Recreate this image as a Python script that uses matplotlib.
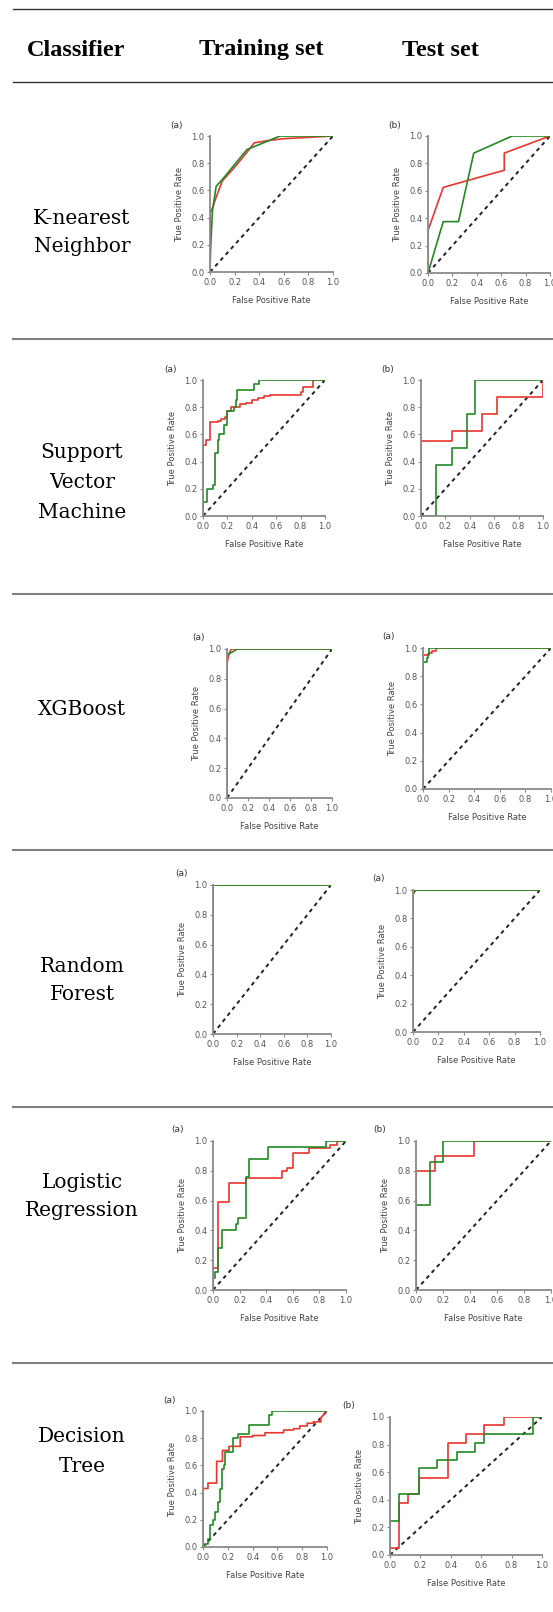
import matplotlib
matplotlib.use("Agg")
import matplotlib.pyplot as plt
from matplotlib.lines import Line2D

W, H = 553, 1612

classifiers = ["K-nearest\nNeighbor", "Support\nVector\nMachine", "XGBoost",
               "Random\nForest", "Logistic\nRegression", "Decision\nTree"]
headers = ["Classifier", "Training set", "Test set"]
panel_tags = [("(a)", "(b)"), ("(a)", "(b)"), ("(a)", "(a)"),
              ("(a)", "(a)"), ("(a)", "(b)"), ("(a)", "(b)")]

# ROC curves: (fpr, tpr) for red and green in each panel
knn_train_red = ([0, 0, 0.02, 0.05, 0.1, 0.2, 0.3, 0.36, 0.5, 0.6, 0.8, 1.0],
                 [0, 0.43, 0.47, 0.55, 0.67, 0.77, 0.88, 0.95, 0.97, 0.98, 0.99, 1.0])
knn_train_green = ([0, 0.005, 0.02, 0.05, 0.1, 0.3, 0.57, 1.0],
                   [0, 0.17, 0.45, 0.63, 0.68, 0.9, 1.0, 1.0])
knn_test_red = ([0, 0, 0.125, 0.625, 0.625, 1.0],
                [0, 0.31, 0.625, 0.75, 0.875, 1.0])
knn_test_green = ([0, 0.125, 0.25, 0.375, 0.69, 1.0],
                  [0, 0.375, 0.375, 0.875, 1.0, 1.0])

svm_train_red = ([0, 0, 0.025, 0.025, 0.06, 0.06, 0.12, 0.12, 0.15, 0.15, 0.18, 0.18, 0.2, 0.2,
                  0.23, 0.23, 0.3, 0.3, 0.35, 0.35, 0.4, 0.4, 0.45, 0.45, 0.5, 0.5, 0.55, 0.55,
                  0.8, 0.8, 0.82, 0.82, 0.9, 0.9, 1.0],
                 [0, 0.52, 0.52, 0.56, 0.56, 0.69, 0.69, 0.7, 0.7, 0.71, 0.71, 0.73, 0.73, 0.77,
                  0.77, 0.8, 0.8, 0.82, 0.82, 0.83, 0.83, 0.85, 0.85, 0.87, 0.87, 0.88, 0.88, 0.89,
                  0.89, 0.91, 0.91, 0.95, 0.95, 1.0, 1.0])
svm_train_green = ([0, 0, 0.03, 0.03, 0.08, 0.08, 0.1, 0.1, 0.12, 0.12, 0.13, 0.13, 0.17, 0.17,
                    0.2, 0.2, 0.25, 0.25, 0.27, 0.27, 0.28, 0.28, 0.42, 0.42, 0.46, 0.46, 1.0],
                   [0, 0.1, 0.1, 0.2, 0.2, 0.23, 0.23, 0.46, 0.46, 0.56, 0.56, 0.6, 0.6, 0.67,
                    0.67, 0.77, 0.77, 0.8, 0.8, 0.85, 0.85, 0.93, 0.93, 0.97, 0.97, 1.0, 1.0])
svm_test_red = ([0, 0, 0.25, 0.25, 0.5, 0.5, 0.625, 0.625, 1.0, 1.0],
                [0, 0.555, 0.555, 0.625, 0.625, 0.75, 0.75, 0.875, 0.875, 1.0])
svm_test_green = ([0, 0.125, 0.125, 0.25, 0.25, 0.375, 0.375, 0.44, 0.44, 1.0],
                  [0, 0, 0.375, 0.375, 0.5, 0.5, 0.75, 0.75, 1.0, 1.0])

xgb_train_red = ([0, 0, 0.01, 0.02, 0.04, 1.0], [0, 0.9, 0.94, 0.97, 1.0, 1.0])
xgb_train_green = ([0, 0, 0.05, 0.1, 1.0], [0, 0.96, 0.98, 1.0, 1.0])
xgb_test_red = ([0, 0, 0.05, 0.05, 0.07, 0.07, 0.1, 0.1, 1.0],
                [0, 0.95, 0.95, 0.965, 0.965, 0.98, 0.98, 1.0, 1.0])
xgb_test_green = ([0, 0, 0.03, 0.03, 0.04, 0.04, 0.05, 0.05, 1.0],
                  [0, 0.9, 0.9, 0.93, 0.93, 0.96, 0.96, 1.0, 1.0])

rf_train_red = ([0, 0, 1.0], [0, 1.0, 1.0])
rf_train_green = ([0, 0, 1.0], [0, 1.0, 1.0])
rf_test_red = ([0, 0, 0.02, 1.0], [0, 0.97, 1.0, 1.0])
rf_test_green = ([0, 0, 0.02, 1.0], [0, 0.97, 1.0, 1.0])

lr_train_red = ([0, 0, 0.037, 0.037, 0.12, 0.12, 0.25, 0.25, 0.52, 0.52, 0.56, 0.56, 0.6, 0.6,
                 0.72, 0.72, 0.88, 0.88, 0.93, 0.93, 1.0],
                [0, 0.15, 0.15, 0.59, 0.59, 0.72, 0.72, 0.75, 0.75, 0.8, 0.8, 0.82, 0.82, 0.92,
                 0.92, 0.95, 0.95, 0.97, 0.97, 1.0, 1.0])
lr_train_green = ([0, 0, 0.017, 0.017, 0.04, 0.04, 0.067, 0.067, 0.17, 0.17, 0.19, 0.19, 0.25,
                   0.25, 0.27, 0.27, 0.41, 0.41, 0.85, 0.85, 1.0],
                  [0, 0.08, 0.08, 0.12, 0.12, 0.28, 0.28, 0.4, 0.4, 0.44, 0.44, 0.48, 0.48,
                   0.76, 0.76, 0.88, 0.88, 0.96, 0.96, 1.0, 1.0])
lr_test_red = ([0, 0, 0.143, 0.143, 0.43, 0.43, 1.0], [0, 0.8, 0.8, 0.9, 0.9, 1.0, 1.0])
lr_test_green = ([0, 0, 0.1, 0.1, 0.2, 0.2, 1.0], [0, 0.57, 0.57, 0.86, 0.86, 1.0, 1.0])

dt_train_red = ([0, 0, 0.04, 0.04, 0.11, 0.11, 0.157, 0.157, 0.21, 0.21, 0.3, 0.3, 0.4, 0.4,
                 0.5, 0.5, 0.65, 0.65, 0.73, 0.73, 0.78, 0.78, 0.84, 0.84, 0.89, 0.89, 0.95,
                 0.95, 1.0],
                [0, 0.43, 0.43, 0.47, 0.47, 0.63, 0.63, 0.71, 0.71, 0.74, 0.74, 0.81, 0.81,
                 0.82, 0.82, 0.84, 0.84, 0.86, 0.86, 0.87, 0.87, 0.89, 0.89, 0.91, 0.91, 0.92,
                 0.92, 0.95, 1.0])
dt_train_green = ([0, 0.02, 0.02, 0.04, 0.04, 0.06, 0.06, 0.08, 0.08, 0.1, 0.1, 0.12, 0.12,
                   0.14, 0.14, 0.15, 0.15, 0.17, 0.17, 0.18, 0.18, 0.24, 0.24, 0.28, 0.28,
                   0.37, 0.37, 0.53, 0.53, 0.56, 0.56, 1.0],
                  [0, 0, 0.02, 0.02, 0.06, 0.06, 0.16, 0.16, 0.2, 0.2, 0.26, 0.26, 0.33, 0.33,
                   0.43, 0.43, 0.57, 0.57, 0.6, 0.6, 0.7, 0.7, 0.8, 0.8, 0.83, 0.83, 0.9, 0.9,
                   0.97, 0.97, 1.0, 1.0])
dt_test_red = ([0, 0, 0.06, 0.06, 0.12, 0.12, 0.19, 0.19, 0.38, 0.38, 0.5, 0.5, 0.62, 0.62,
                0.75, 0.75, 1.0],
               [0, 0.05, 0.05, 0.38, 0.38, 0.44, 0.44, 0.56, 0.56, 0.81, 0.81, 0.88, 0.88,
                0.94, 0.94, 1.0, 1.0])
dt_test_green = ([0, 0, 0.06, 0.06, 0.19, 0.19, 0.31, 0.31, 0.44, 0.44, 0.56, 0.56, 0.62,
                  0.62, 0.94, 0.94, 1.0],
                 [0, 0.25, 0.25, 0.44, 0.44, 0.63, 0.63, 0.69, 0.69, 0.75, 0.75, 0.81, 0.81,
                  0.88, 0.88, 1.0, 1.0])

curves = [
    [(knn_train_red, knn_train_green), (knn_test_red, knn_test_green)],
    [(svm_train_red, svm_train_green), (svm_test_red, svm_test_green)],
    [(xgb_train_red, xgb_train_green), (xgb_test_red, xgb_test_green)],
    [(rf_train_red, rf_train_green), (rf_test_red, rf_test_green)],
    [(lr_train_red, lr_train_green), (lr_test_red, lr_test_green)],
    [(dt_train_red, dt_train_green), (dt_test_red, dt_test_green)],
]

# layout in pixels: (x0, x1, ytop, ybottom) of each axes
boxes = [
    [(210, 333, 136, 272), (428, 550, 136, 273)],
    [(203, 325, 380, 516), (421, 543, 380, 516)],
    [(227, 332, 649, 798), (423, 551, 648, 789)],
    [(213, 331, 885, 1034), (413, 540, 890, 1032)],
    [(213, 346, 1141, 1290), (416, 551, 1141, 1290)],
    [(203, 327, 1411, 1547), (390, 542, 1417, 1555)],
]
label_y = [[219, 247], [452, 483, 512], [709], [966, 995], [1182, 1211], [1436, 1466]]
sep_y = [339, 594, 850, 1107, 1363]

RED = "#e8352e"
GREEN = "#238a23"
GREY = "#8a8a8a"

fig = plt.figure(figsize=(W / 100, H / 100), dpi=100)


def fx(x):
    return x / W


def fy(y):
    return 1 - y / H


# table rules
for y, c, lw in [(9, "#333333", 1.0), (82, "#333333", 1.0)] + [(s, "#808080", 1.5) for s in sep_y]:
    fig.add_artist(Line2D([fx(13), 1], [fy(y), fy(y)], color=c, lw=lw))

for txt, x in zip(headers, [76, 261, 440]):
    fig.text(fx(x), fy(50), txt, ha="center", va="center", fontsize=17.5,
             fontweight="bold", family="Liberation Serif")

for name, ys in zip(classifiers, label_y):
    for line, y in zip(name.split("\n"), ys):
        fig.text(fx(82), fy(y), line, ha="center", va="center", fontsize=14.5,
                 family="DejaVu Serif")

for row in range(6):
    for col in range(2):
        x0, x1, yt, yb = boxes[row][col]
        ax = fig.add_axes([fx(x0), fy(yb), (x1 - x0) / W, (yb - yt) / H])
        red, green = curves[row][col]
        ax.plot([0, 1], [0, 1], color="#222222", lw=1.4, ls=(0, (2, 2)))
        ax.plot(red[0], red[1], color=RED, lw=1.2)
        ax.plot(green[0], green[1], color=GREEN, lw=1.2)
        ax.set_xlim(0, 1)
        ax.set_ylim(0, 1)
        ax.set_xticks([0, 0.2, 0.4, 0.6, 0.8, 1.0])
        ax.set_yticks([0, 0.2, 0.4, 0.6, 0.8, 1.0])
        ax.xaxis.set_major_formatter(matplotlib.ticker.FormatStrFormatter("%.1f"))
        ax.yaxis.set_major_formatter(matplotlib.ticker.FormatStrFormatter("%.1f"))
        for s in ["top", "right"]:
            ax.spines[s].set_visible(False)
        for s in ["left", "bottom"]:
            ax.spines[s].set_color(GREY)
            ax.spines[s].set_linewidth(1.3)
        ax.tick_params(length=2.5, width=0.8, color=GREY, labelsize=6,
                       labelcolor="#555555", pad=1.5)
        ax.set_xlabel("False Positive Rate", fontsize=6, color="#444444", labelpad=7)
        ax.set_ylabel("True Positive Rate", fontsize=6, color="#444444", labelpad=5)
        ax.patch.set_alpha(0)
        ax.text(-0.27, 1.08, panel_tags[row][col], transform=ax.transAxes,
                fontsize=6.5, color="#333333", ha="center", va="center")

fig.savefig("out.png", dpi=100)
